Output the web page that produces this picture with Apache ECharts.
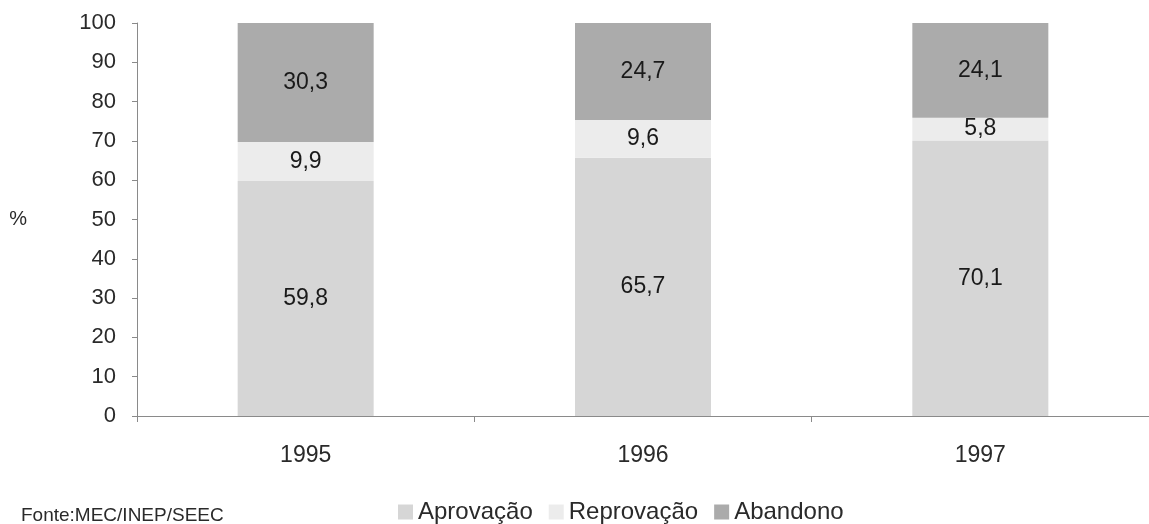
<!DOCTYPE html>
<html>
<head>
<meta charset="utf-8">
<script src="https://cdn.jsdelivr.net/npm/echarts@6/dist/echarts.min.js"></script>
<style>
  html, body { margin: 0; padding: 0; background: #fff; }
  #chart { width: 1149px; height: 524px; }
</style>
</head>
<body>
<div id="chart"></div>
<script>
// dados
const anos = ['1995', '1996', '1997'];
const aprovacao = [59.8, 65.7, 70.1];
const reprovacao = [9.9, 9.6, 5.8];
const abandono = [30.3, 24.7, 24.1];
const ticksY = [0, 100, 10]; // min, max, intervalo

const fonte = 'Liberation Sans, Arial, sans-serif';
const fmt = p => String(p.value).replace('.', ',');

function serie(nome, dados, cor) {
  return {
    name: nome,
    type: 'bar',
    stack: 'total',
    barWidth: 136,
    data: dados,
    itemStyle: { color: cor },
    label: {
      show: true,
      position: 'inside',
      formatter: fmt,
      color: '#1a1a1a',
      fontSize: 23,
      fontFamily: fonte
    }
  };
}

const chart = echarts.init(document.getElementById('chart'));
chart.setOption({
  animation: false,
  textStyle: { fontFamily: fonte },
  title: {
    text: 'Fonte:MEC/INEP/SEEC',
    left: 16,
    top: 501,
    textStyle: { fontSize: 19, fontWeight: 'normal', color: '#2a2a2a', fontFamily: fonte }
  },
  legend: {
    left: 393,
    top: 495,
    itemWidth: 15,
    itemHeight: 15,
    itemGap: 16,
    icon: 'rect',
    textStyle: { fontSize: 24, color: '#2a2a2a', fontFamily: fonte },
    data: ['Aprovação', 'Reprovação', 'Abandono']
  },
  grid: { left: 137, top: 23, width: 1023, height: 393 },
  xAxis: {
    type: 'category',
    data: anos,
    axisLine: { lineStyle: { color: '#8a8a8a' } },
    axisTick: { show: true, length: 6, lineStyle: { color: '#8a8a8a' } },
    axisLabel: { fontSize: 23, color: '#2a2a2a', margin: 28 }
  },
  yAxis: {
    type: 'value',
    min: ticksY[0],
    max: ticksY[1],
    interval: ticksY[2],
    name: '%',
    nameLocation: 'middle',
    nameRotate: 0,
    nameGap: 110,
    nameTextStyle: { fontSize: 20, color: '#2a2a2a' },
    splitLine: { show: false },
    axisLine: { show: true, lineStyle: { color: '#8a8a8a' } },
    axisTick: { show: true, length: 5, lineStyle: { color: '#8a8a8a' } },
    axisLabel: { fontSize: 22, color: '#2a2a2a', margin: 21 }
  },
  series: [
    serie('Aprovação', aprovacao, '#d6d6d6'),
    serie('Reprovação', reprovacao, '#ececec'),
    serie('Abandono', abandono, '#ababab')
  ]
});
</script>
</body>
</html>
